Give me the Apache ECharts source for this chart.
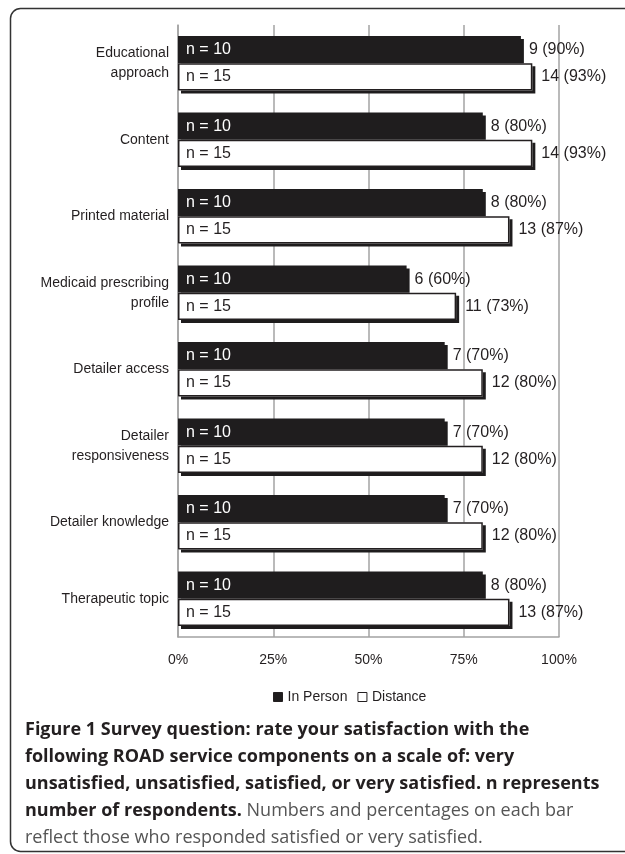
<!DOCTYPE html>
<html>
<head>
<meta charset="utf-8">
<script src="https://cdn.jsdelivr.net/npm/echarts@6/dist/echarts.min.js"></script>
<style>
  html, body { margin: 0; padding: 0; background: #ffffff; }
  #chart { width: 625px; height: 854px; }
</style>
</head>
<body>
<div id="chart"></div>
<script>
// Service components rated, top to bottom
const categories = [
  'Educational\napproach',
  'Content',
  'Printed material',
  'Medicaid prescribing\nprofile',
  'Detailer access',
  'Detailer\nresponsiveness',
  'Detailer knowledge',
  'Therapeutic topic'
];

// Respondents satisfied or very satisfied
const inPersonCount = [9, 8, 8, 6, 7, 7, 7, 8];
const inPersonPct = [90, 80, 80, 60, 70, 70, 70, 80];
const distanceCount = [14, 14, 13, 11, 12, 12, 12, 13];
const distancePct = [93, 93, 87, 73, 80, 80, 80, 87];

// Group sizes
const inPersonN = 10;
const distanceN = 15;

// Percentage axis
const xTickValues = [0, 25, 50, 75, 100];

const seriesNames = ['In Person', 'Distance'];

const ink = '#231f20';
const gridGray = '#a3a3a3';
const labelFont = 'Liberation Sans, Arial, sans-serif';
const barShadow = {
  shadowColor: '#1e1c1d',
  shadowBlur: 0,
  shadowOffsetX: 3,
  shadowOffsetY: 3
};

const chart = echarts.init(document.getElementById('chart'), null, { renderer: 'canvas' });

const catAxisBase = {
  type: 'category',
  data: categories,
  inverse: true,
  axisTick: { show: false }
};

const barLayout = { barCategoryGap: '29%', barGap: '0%' };

chart.setOption({
  backgroundColor: '#ffffff',
  animation: false,
  grid: { left: 178, right: 66, top: 25, bottom: 217, containLabel: false },
  xAxis: {
    type: 'value',
    min: xTickValues[0],
    max: xTickValues[xTickValues.length - 1],
    interval: xTickValues[1] - xTickValues[0],
    axisLine: { show: true, lineStyle: { color: gridGray, width: 1.5 } },
    axisTick: { show: false },
    splitLine: { show: true, lineStyle: { color: gridGray, width: 1.5 } },
    axisLabel: {
      formatter: v => v + '%',
      fontFamily: labelFont,
      fontSize: 14,
      color: ink,
      margin: 16
    }
  },
  yAxis: [
    Object.assign({}, catAxisBase, {
      axisLine: { show: true, lineStyle: { color: gridGray, width: 1.5 } },
      axisLabel: {
        fontFamily: labelFont,
        fontSize: 14,
        lineHeight: 20,
        color: ink,
        margin: 9,
        align: 'right'
      }
    }),
    Object.assign({}, catAxisBase, { show: false })
  ],
  legend: {
    data: seriesNames,
    left: 268,
    top: 685,
    icon: 'rect',
    itemWidth: 9,
    itemHeight: 9,
    itemGap: 10,
    itemStyle: { shadowBlur: 0, shadowOffsetX: 0, shadowOffsetY: 0, shadowColor: 'rgba(0,0,0,0)', borderColor: ink, borderWidth: 1 },
    textStyle: { fontFamily: labelFont, fontSize: 14, color: ink },
    selectedMode: false
  },
  series: [
    Object.assign({
      name: seriesNames[0],
      type: 'bar',
      yAxisIndex: 0,
      data: inPersonPct,
      itemStyle: Object.assign({ color: '#1f1d1e' }, barShadow),
      label: {
        show: true,
        position: 'right',
        distance: 8,
        formatter: p => inPersonCount[p.dataIndex] + ' (' + inPersonPct[p.dataIndex] + '%)',
        fontFamily: labelFont,
        fontSize: 16,
        color: ink
      }
    }, barLayout),
    Object.assign({
      name: seriesNames[1],
      type: 'bar',
      yAxisIndex: 0,
      data: distancePct,
      itemStyle: Object.assign({ color: '#ffffff' }, barShadow),
      label: {
        show: true,
        position: 'right',
        distance: 9,
        formatter: p => distanceCount[p.dataIndex] + ' (' + distancePct[p.dataIndex] + '%)',
        fontFamily: labelFont,
        fontSize: 16,
        color: ink
      }
    }, barLayout),
    // Group-size captions inside each bar; the Distance layer also carries the bar outline
    Object.assign({
      name: 'In Person size',
      type: 'bar',
      yAxisIndex: 1,
      data: inPersonPct,
      silent: true,
      itemStyle: { color: 'rgba(0,0,0,0)' },
      label: {
        show: true,
        position: 'insideLeft',
        distance: 8,
        formatter: () => 'n = ' + inPersonN,
        fontFamily: labelFont,
        fontSize: 16,
        color: '#ffffff'
      }
    }, barLayout),
    Object.assign({
      name: 'Distance size',
      type: 'bar',
      yAxisIndex: 1,
      data: distancePct,
      silent: true,
      itemStyle: { color: 'rgba(0,0,0,0)', borderColor: ink, borderWidth: 1.5 },
      label: {
        show: true,
        position: 'insideLeft',
        distance: 8,
        formatter: () => 'n = ' + distanceN,
        fontFamily: labelFont,
        fontSize: 16,
        color: ink
      }
    }, barLayout)
  ],
  graphic: [
    {
      type: 'rect',
      shape: { x: 10.5, y: 8.5, width: 660, height: 843, r: 10 },
      style: { fill: 'none', stroke: '#333333', lineWidth: 1.5 },
      silent: true
    },
    {
      type: 'text',
      left: 25,
      top: 721,
      silent: true,
      style: {
        text: [
          '{b|Figure 1 Survey question: rate your satisfaction with the}',
          '{b|following ROAD service components on a scale of: very}',
          '{b|unsatisfied, unsatisfied, satisfied, or very satisfied. n represents}',
          '{b|number of respondents.}{n| Numbers and percentages on each bar}',
          '{n|reflect those who responded satisfied or very satisfied.}'
        ].join('\n'),
        rich: {
          b: { fontFamily: 'Open Sans, sans-serif', fontWeight: 'bold', fontSize: 18, lineHeight: 27, fill: ink },
          n: { fontFamily: 'Open Sans, sans-serif', fontWeight: 'normal', fontSize: 18, lineHeight: 27, fill: '#555555' }
        }
      }
    }
  ]
});
</script>
</body>
</html>
